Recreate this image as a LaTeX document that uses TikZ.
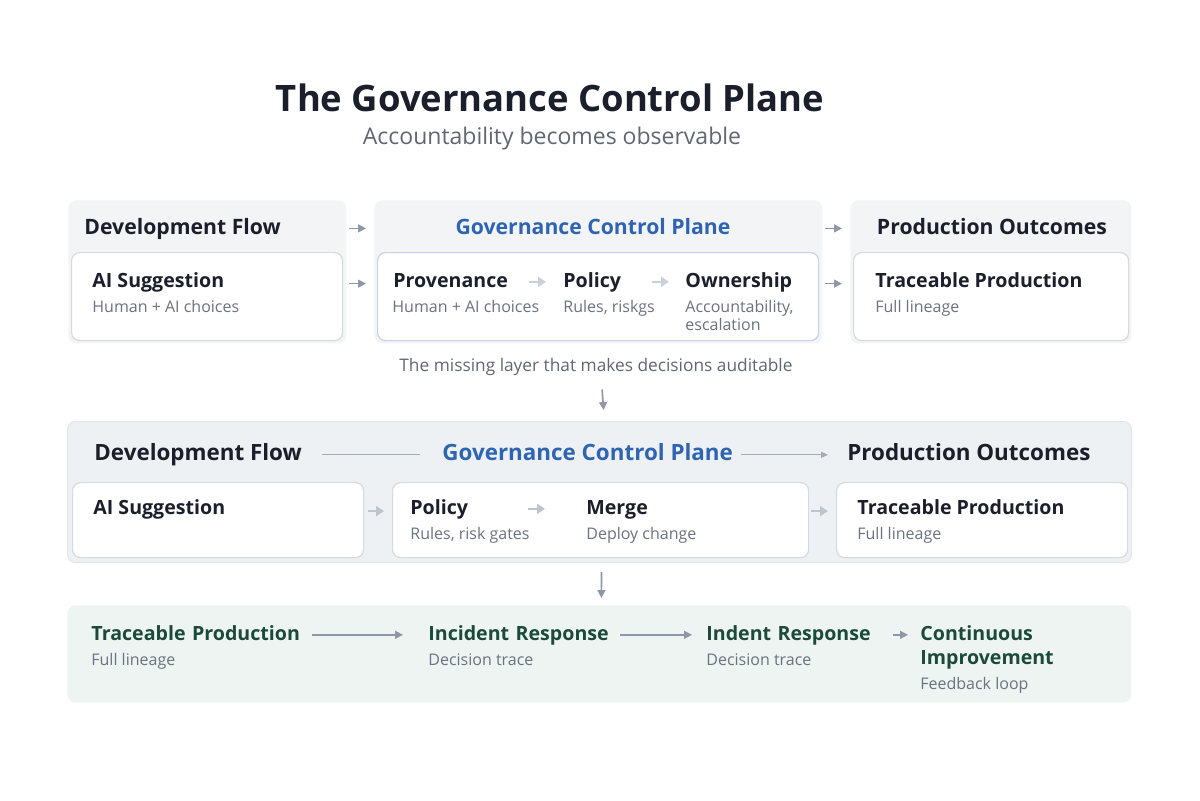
\documentclass[tikz,border=0pt]{standalone}
\usepackage{fontspec}
\setmainfont{Open Sans}
\usetikzlibrary{arrows.meta}
\definecolor{ink}{HTML}{1A1F2B}
\definecolor{sub}{HTML}{6B7280}
\definecolor{blu}{HTML}{2F64B3}
\definecolor{grn}{HTML}{1C4A3A}
\definecolor{pnl}{HTML}{F3F4F6}
\definecolor{ibd}{HTML}{D6DAE0}
\definecolor{ibb}{HTML}{C4D2EA}
\definecolor{mid}{HTML}{EDF1F4}
\definecolor{midb}{HTML}{E2E7EB}
\definecolor{bot}{HTML}{EDF4F1}
\definecolor{arc}{HTML}{8E97A8}
\definecolor{arl}{HTML}{C8D1D7}
\newcommand\bx[6]{\node[#6,anchor=north west,inner sep=0pt,minimum width={(#4-#2)*0.5pt},minimum height={(#5-#3)*0.5pt}] (#1) at (#2,#3) {};}
\begin{document}
\begin{tikzpicture}[x=0.5pt,y=-0.5pt,
  panel/.style={fill=pnl,rounded corners=4pt},
  ibox/.style={fill=white,draw=ibd,line width=0.6pt,rounded corners=4pt},
  iboxb/.style={fill=white,draw=ibb,line width=0.6pt,rounded corners=4pt},
  band/.style={fill=mid,draw=midb,line width=0.5pt,rounded corners=4pt},
  gband/.style={fill=bot,rounded corners=4pt},
  txt/.style={inner sep=0pt,anchor=base west,text height=0.72em,text depth=0.2em},
  hdr/.style={txt,font=\bfseries\fontsize{10.6}{12}\selectfont,text=ink},
  mhdr/.style={txt,font=\bfseries\fontsize{11.2}{13}\selectfont,text=ink},
  stp/.style={txt,font=\bfseries\fontsize{9.8}{12}\selectfont,text=ink},
  gstp/.style={txt,font=\bfseries\fontsize{9.8}{12}\selectfont,text=grn},
  sb/.style={txt,font=\fontsize{8.0}{10}\selectfont,text=sub},
  arr/.style={draw=arc,line width=0.8pt,-{Triangle[length=4pt,width=4pt]}},
  larr/.style={draw=arl,line width=1.2pt,-{Triangle[length=4pt,width=5pt]}},
  ln/.style={draw=arc!80,line width=0.6pt}]
\useasboundingbox (0,0) rectangle (1200,800);
\fill[white] (0,0) rectangle (1200,800);
% title
\node[inner sep=0pt,anchor=base,font=\bfseries\fontsize{18.2}{22}\selectfont,text=ink] (title) at (550,111) {The Governance Control Plane};
\node[inner sep=0pt,anchor=base,font=\fontsize{11.5}{13}\selectfont,text=sub!90!black] (subtitle) at (552,144) {Accountability becomes observable};
% top row panels
\bx{p1}{68}{200}{346}{343}{panel}
\bx{p2}{374}{200}{822}{343}{panel}
\bx{p3}{850}{200}{1131}{343}{panel}
\bx{ib1}{71}{252}{342}{340}{ibox}
\bx{ib2}{377}{252}{818}{340}{iboxb}
\bx{ib3}{853}{252}{1128}{340}{ibox}
\node[hdr] (h1) at (84,234) {Development Flow};
\node[hdr,anchor=base,text=blu] (h2) at (593,234) {Governance Control Plane};
\node[hdr,anchor=base] (h3) at (992,234) {Production Outcomes};
\node[stp] (s1) at (92,287) {AI Suggestion};
\node[sb] (s1b) at (92,312) {Human + AI choices};
\node[stp,text width=67.5pt] (prov) at (393,287) {Provenance};
\node[sb] (provb) at (392,312) {Human + AI choices};
\node[stp,text width=44pt] (pol) at (563,287) {Policy};
\node[sb] (polb) at (563,312) {Rules, riskgs};
\node[stp] (own) at (685,287) {Ownership};
\node[sb] (ownb) at (685,312) {Accountability,};
\node[sb] (ownc) at (685,330) {escalation};
\node[stp] (s3) at (875,287) {Traceable Production};
\node[sb] (s3b) at (875,312) {Full lineage};
\draw[larr,shorten >=8.5pt] (prov.east) -- (pol.west);
\draw[larr,shorten >=8pt] (pol.east) -- (own.west);
\draw[arr,shorten <=1pt,shorten >=4pt] ([yshift=21.75pt]p1.east) -- ([yshift=21.75pt]p2.west);
\draw[arr,shorten <=1pt,shorten >=4pt] ([yshift=21.75pt]p2.east) -- ([yshift=21.75pt]p3.west);
\draw[arr,shorten <=3pt,shorten >=5.5pt] ([yshift=6.5pt]ib1.east) -- ([yshift=6.5pt]ib2.west);
\draw[arr,shorten <=3pt,shorten >=5.5pt] ([yshift=6.5pt]ib2.east) -- ([yshift=6.5pt]ib3.west);
% caption
\node[inner sep=0pt,anchor=base,font=\fontsize{8.65}{10}\selectfont,text=sub!90!black,text height=0.72em,text depth=0.2em] (cap) at (596,371) {The missing layer that makes decisions auditable};
% middle band
\bx{mb}{67}{421}{1131}{562}{band}
\bx{ma}{72}{482}{363}{557}{ibox}
\bx{mbx}{392}{482}{808}{557}{ibox}
\bx{mc}{836}{482}{1127}{557}{ibox}
\draw[arr,shorten <=7pt,shorten >=5.5pt] ([xshift=2.5pt]cap.south) -- ([xshift=2.5pt]mb.north);
\node[mhdr] (md) at (94,460) {Development Flow};
\node[mhdr,text=blu] (mg) at (442,460) {Governance Control Plane};
\node[mhdr] (mp) at (847,460) {Production Outcomes};
\draw[ln,shorten <=10pt,shorten >=11pt] (md.east) -- (mg.west);
\draw[ln,-{Triangle[length=3.5pt,width=3pt]},shorten <=4pt,shorten >=9.5pt] (mg.east) -- (mp.west);
\node[stp] (ms1) at (93,514) {AI Suggestion};
\node[stp,text width=58.5pt] (mpol) at (410,514) {Policy};
\node[sb] (mpolb) at (410,539) {Rules, risk gates};
\node[stp] (mmer) at (586,514) {Merge};
\node[sb] (mmerb) at (586,539) {Deploy change};
\node[stp] (ms3) at (857,514) {Traceable Production};
\node[sb] (ms3b) at (857,539) {Full lineage};
\draw[larr,draw=arl!80!arc,shorten >=20.5pt] (mpol.east) -- (mmer.west);
\draw[larr,draw=arl!80!arc,shorten <=2pt,shorten >=4pt] ([yshift=4.5pt]ma.east) -- ([yshift=4.5pt]mbx.west);
\draw[larr,draw=arl!80!arc,shorten <=1pt,shorten >=4pt] ([yshift=4.5pt]mbx.east) -- ([yshift=4.5pt]mc.west);
% bottom band
\bx{bb}{67}{605}{1131}{702}{gband}
\draw[arr,shorten <=4.5pt,shorten >=3.5pt] ([xshift=1pt]mb.south) -- ([xshift=1pt]bb.north);
\node[gstp,text width=110pt] (b1) at (91,640) {Traceable Production};
\node[sb] (b1b) at (91,665) {Full lineage};
\node[gstp,text width=95.5pt] (b2) at (428,640) {Incident Response};
\node[sb] (b2b) at (428,665) {Decision trace};
\node[gstp,text width=93pt] (b3) at (706,640) {Indent Response};
\node[sb] (b3b) at (706,665) {Decision trace};
\node[gstp] (b4) at (920,640) {Continuous};
\node[gstp] (b4b) at (920,664) {Improvement};
\node[sb] (b4c) at (920,689) {Feedback loop};
\draw[arr,shorten >=12.5pt] (b1.east) -- (b2.west);
\draw[arr,shorten >=7pt] (b2.east) -- (b3.west);
\draw[arr,shorten >=6pt] (b3.east) -- (b4.west);
\end{tikzpicture}
\end{document}
